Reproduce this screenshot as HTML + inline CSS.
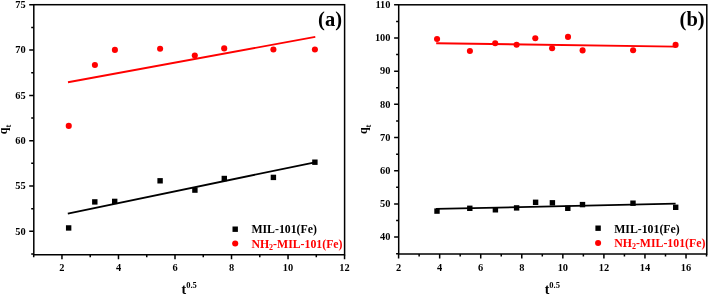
<!DOCTYPE html>
<html><head><meta charset="utf-8"><style>
html,body{margin:0;padding:0;background:#fff;}
svg{display:block;will-change:transform;}
text{font-family:"Liberation Serif", serif;font-weight:bold;fill:#000;}
.tk{font-size:10.4px;}
.lg{font-size:11.8px;}
.pl{font-size:20.5px;}
.ax{font-size:12px;}
.xt{font-size:14px;}
.red{fill:#f00;}
</style></head><body>
<svg width="708" height="294" viewBox="0 0 708 294">
<rect width="708" height="294" fill="#fff"/>
<rect x="33.8" y="4.7" width="310.8" height="250.05" fill="none" stroke="#000" stroke-width="1.5"/>
<path d="M61.96 254.75V259.35M118.48 254.75V259.35M175 254.75V259.35M231.52 254.75V259.35M288.04 254.75V259.35M344.56 254.75V259.35M33.7 254.75V257.35M90.22 254.75V257.35M146.74 254.75V257.35M203.26 254.75V257.35M259.78 254.75V257.35M316.3 254.75V257.35M33.8 231.3H29.2M33.8 186H29.2M33.8 140.7H29.2M33.8 95.4H29.2M33.8 50.1H29.2M33.8 4.8H29.2M33.8 253.95H31.2M33.8 208.65H31.2M33.8 163.35H31.2M33.8 118.05H31.2M33.8 72.75H31.2M33.8 27.45H31.2" stroke="#000" stroke-width="1.5" fill="none"/>
<text x="61.96" y="270.8" text-anchor="middle" class="tk">2</text>
<text x="118.48" y="270.8" text-anchor="middle" class="tk">4</text>
<text x="175" y="270.8" text-anchor="middle" class="tk">6</text>
<text x="231.52" y="270.8" text-anchor="middle" class="tk">8</text>
<text x="288.04" y="270.8" text-anchor="middle" class="tk">10</text>
<text x="344.56" y="270.8" text-anchor="middle" class="tk">12</text>
<text x="25.6" y="234.6" text-anchor="end" class="tk">50</text>
<text x="25.6" y="189.3" text-anchor="end" class="tk">55</text>
<text x="25.6" y="144" text-anchor="end" class="tk">60</text>
<text x="25.6" y="98.7" text-anchor="end" class="tk">65</text>
<text x="25.6" y="53.4" text-anchor="end" class="tk">70</text>
<text x="25.6" y="8.1" text-anchor="end" class="tk">75</text>
<rect x="398.7" y="4.8" width="308.1" height="249.2" fill="none" stroke="#000" stroke-width="1.5"/>
<path d="M398.6 254V258.6M439.66 254V258.6M480.72 254V258.6M521.78 254V258.6M562.84 254V258.6M603.9 254V258.6M644.96 254V258.6M686.02 254V258.6M419.13 254V256.6M460.19 254V256.6M501.25 254V256.6M542.31 254V256.6M583.37 254V256.6M624.43 254V256.6M665.49 254V256.6M706.55 254V256.6M398.7 237.1H394.1M398.7 203.91H394.1M398.7 170.73H394.1M398.7 137.54H394.1M398.7 104.36H394.1M398.7 71.17H394.1M398.7 37.98H394.1M398.7 4.8H394.1M398.7 253.69H396.1M398.7 220.51H396.1M398.7 187.32H396.1M398.7 154.13H396.1M398.7 120.95H396.1M398.7 87.76H396.1M398.7 54.58H396.1M398.7 21.39H396.1" stroke="#000" stroke-width="1.5" fill="none"/>
<text x="398.6" y="270.8" text-anchor="middle" class="tk">2</text>
<text x="439.66" y="270.8" text-anchor="middle" class="tk">4</text>
<text x="480.72" y="270.8" text-anchor="middle" class="tk">6</text>
<text x="521.78" y="270.8" text-anchor="middle" class="tk">8</text>
<text x="562.84" y="270.8" text-anchor="middle" class="tk">10</text>
<text x="603.9" y="270.8" text-anchor="middle" class="tk">12</text>
<text x="644.96" y="270.8" text-anchor="middle" class="tk">14</text>
<text x="686.02" y="270.8" text-anchor="middle" class="tk">16</text>
<text x="390.5" y="240.4" text-anchor="end" class="tk">40</text>
<text x="390.5" y="207.21" text-anchor="end" class="tk">50</text>
<text x="390.5" y="174.03" text-anchor="end" class="tk">60</text>
<text x="390.5" y="140.84" text-anchor="end" class="tk">70</text>
<text x="390.5" y="107.66" text-anchor="end" class="tk">80</text>
<text x="390.5" y="74.47" text-anchor="end" class="tk">90</text>
<text x="390.5" y="41.28" text-anchor="end" class="tk">100</text>
<text x="390.5" y="8.1" text-anchor="end" class="tk">110</text>
<line x1="67.8" y1="213.6" x2="314.9" y2="162.3" stroke="#000" stroke-width="1.8"/>
<line x1="68" y1="82.3" x2="315.3" y2="36.9" stroke="#f00" stroke-width="1.9"/>
<rect x="65.95" y="225.25" width="5.4" height="5.4" fill="#000"/>
<rect x="92.1" y="199.2" width="5.4" height="5.4" fill="#000"/>
<rect x="112" y="198.7" width="5.4" height="5.4" fill="#000"/>
<rect x="157.4" y="178.1" width="5.4" height="5.4" fill="#000"/>
<rect x="192.2" y="187.4" width="5.4" height="5.4" fill="#000"/>
<rect x="221.6" y="175.8" width="5.4" height="5.4" fill="#000"/>
<rect x="270.7" y="174.7" width="5.4" height="5.4" fill="#000"/>
<rect x="312.2" y="159.5" width="5.4" height="5.4" fill="#000"/>
<circle cx="68.75" cy="125.9" r="3.05" fill="#f00"/>
<circle cx="94.9" cy="65" r="3.05" fill="#f00"/>
<circle cx="114.9" cy="49.9" r="3.05" fill="#f00"/>
<circle cx="160.1" cy="48.7" r="3.05" fill="#f00"/>
<circle cx="194.8" cy="55.5" r="3.05" fill="#f00"/>
<circle cx="224.2" cy="48.4" r="3.05" fill="#f00"/>
<circle cx="273.4" cy="49.5" r="3.05" fill="#f00"/>
<circle cx="314.9" cy="49.5" r="3.05" fill="#f00"/>
<line x1="436" y1="208.9" x2="675.6" y2="203.7" stroke="#000" stroke-width="1.8"/>
<line x1="436.2" y1="43.2" x2="675.6" y2="46.6" stroke="#f00" stroke-width="1.9"/>
<rect x="434.3" y="208.4" width="5.4" height="5.4" fill="#000"/>
<rect x="467.1" y="205.6" width="5.4" height="5.4" fill="#000"/>
<rect x="492.7" y="207.1" width="5.4" height="5.4" fill="#000"/>
<rect x="513.9" y="205.2" width="5.4" height="5.4" fill="#000"/>
<rect x="532.9" y="199.6" width="5.4" height="5.4" fill="#000"/>
<rect x="549.7" y="200.1" width="5.4" height="5.4" fill="#000"/>
<rect x="565.1" y="205.6" width="5.4" height="5.4" fill="#000"/>
<rect x="579.8" y="201.9" width="5.4" height="5.4" fill="#000"/>
<rect x="630.3" y="200.5" width="5.4" height="5.4" fill="#000"/>
<rect x="673" y="204.6" width="5.4" height="5.4" fill="#000"/>
<circle cx="437.05" cy="38.95" r="3.05" fill="#f00"/>
<circle cx="469.9" cy="50.95" r="3.05" fill="#f00"/>
<circle cx="495.2" cy="43.3" r="3.05" fill="#f00"/>
<circle cx="516.6" cy="44.8" r="3.05" fill="#f00"/>
<circle cx="535.3" cy="38.2" r="3.05" fill="#f00"/>
<circle cx="552.1" cy="48.2" r="3.05" fill="#f00"/>
<circle cx="568" cy="36.9" r="3.05" fill="#f00"/>
<circle cx="582.6" cy="50.4" r="3.05" fill="#f00"/>
<circle cx="633.1" cy="50.2" r="3.05" fill="#f00"/>
<circle cx="675.6" cy="44.9" r="3.05" fill="#f00"/>
<rect x="232.5" y="226.5" width="5.4" height="5.4" fill="#000"/>
<circle cx="235.2" cy="243.5" r="3.05" fill="#f00"/>
<text x="251.4" y="233.2" class="lg">MIL-101(Fe)</text>
<text x="251.4" y="247.5" class="lg red">NH<tspan font-size="8" dy="2.3">2</tspan><tspan dy="-2.3">-MIL-101(Fe)</tspan></text>
<rect x="595.4" y="225.5" width="5.4" height="5.4" fill="#000"/>
<circle cx="598.1" cy="243" r="3.05" fill="#f00"/>
<text x="614.2" y="232.8" class="lg">MIL-101(Fe)</text>
<text x="614.2" y="246.9" class="lg red">NH<tspan font-size="8" dy="2.3">2</tspan><tspan dy="-2.3">-MIL-101(Fe)</tspan></text>
<text x="318.1" y="25.7" class="pl">(a)</text>
<text x="679.6" y="25.5" class="pl">(b)</text>
<text transform="translate(6.9,129.5) rotate(-90)" text-anchor="middle" class="ax">q<tspan font-size="8.5" dy="4.2">t</tspan></text>
<text transform="translate(366.75,129.3) rotate(-90)" text-anchor="middle" class="ax">q<tspan font-size="8.5" dy="4.2">t</tspan></text>
<text x="181.5" y="293.5" class="xt">t<tspan font-size="8.5" dy="-5.9">0.5</tspan></text>
<text x="544.7" y="293.5" class="xt">t<tspan font-size="8.5" dy="-5.9">0.5</tspan></text>
</svg>
</body></html>
